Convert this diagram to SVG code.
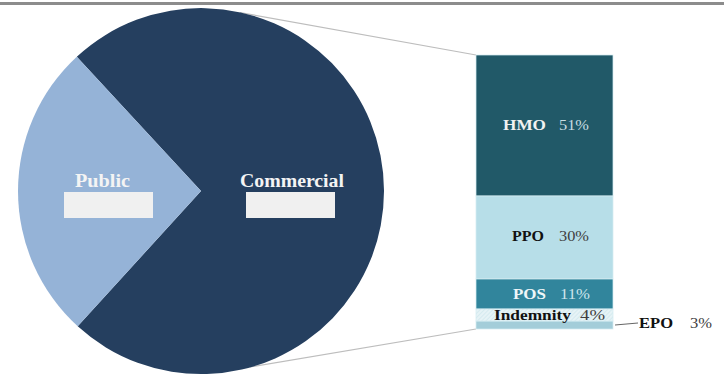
<svg xmlns="http://www.w3.org/2000/svg" width="724" height="376" viewBox="0 0 724 376">
<defs>
<pattern id="hatch" width="3" height="3" patternUnits="userSpaceOnUse" patternTransform="rotate(45)">
<rect width="3" height="3" fill="#e6f3f6"/>
<line x1="0" y1="0" x2="0" y2="3" stroke="#c4e1e9" stroke-width="1"/>
</pattern>
</defs>
<style>
.t{font-family:"Liberation Serif","Times New Roman",serif;}
.b{font-weight:bold;}
.big{font-size:18.5px;fill:#f4f4f4;}
.sm{font-size:15px;}
.seg{stroke:#d4ebf1;stroke-width:0.75;}
.conn{stroke:#bdbdbd;stroke-width:1.2;fill:none;}
.box{fill:#f0f0f0;}
</style>
<rect x="0" y="2" width="724" height="3" fill="#8c8c8c"/>
<g id="connectors">
<line class="conn" x1="240" y1="12.5" x2="476" y2="55"/>
<line class="conn" x1="250" y1="367" x2="476" y2="329"/>
<line x1="615" y1="325" x2="638" y2="323" stroke="#666666" stroke-width="1"/>
</g>
<g id="commercial">
<path d="M201,191 L76.8,56.7 A183,183 0 1 1 77.7,326.3 Z" fill="#253f5f"/>
<text class="t b big" x="240" y="187" textLength="104" lengthAdjust="spacingAndGlyphs">Commercial</text>
<rect class="box" x="246" y="192" width="89" height="26"/>
</g>
<g id="public">
<path d="M201,191 L76.8,56.7 A183,183 0 0 0 77.7,326.3 Z" fill="#95b3d7"/>
<text class="t b big" x="75" y="187" textLength="55" lengthAdjust="spacingAndGlyphs">Public</text>
<rect class="box" x="64" y="192" width="89" height="26"/>
</g>
<g id="hmo">
<rect class="seg" x="476" y="55" width="137" height="141" fill="#215968"/>
<text class="t b sm" x="503" y="130" fill="#f2f2f2" textLength="43" lengthAdjust="spacingAndGlyphs">HMO</text>
<text class="t sm" x="559" y="130" fill="#c9dde2" textLength="30" lengthAdjust="spacingAndGlyphs">51%</text>
</g>
<g id="ppo">
<rect class="seg" x="476" y="196" width="137" height="83" fill="#b7dee8"/>
<text class="t b sm" x="512" y="241" fill="#111111" textLength="32" lengthAdjust="spacingAndGlyphs">PPO</text>
<text class="t sm" x="559" y="241" fill="#404040" textLength="30" lengthAdjust="spacingAndGlyphs">30%</text>
</g>
<g id="pos">
<rect class="seg" x="476" y="279" width="137" height="30" fill="#31859c"/>
<text class="t b sm" x="513" y="299" fill="#eef6f8" textLength="33" lengthAdjust="spacingAndGlyphs">POS</text>
<text class="t sm" x="560" y="299" fill="#cfe6ec" textLength="30" lengthAdjust="spacingAndGlyphs">11%</text>
</g>
<g id="epo">
<rect class="seg" x="476" y="321" width="137" height="8" fill="#a3cdd9"/>
<text class="t b sm" x="639" y="327.5" fill="#111111" textLength="34" lengthAdjust="spacingAndGlyphs">EPO</text>
<text class="t sm" x="690" y="327.5" fill="#404040" textLength="22" lengthAdjust="spacingAndGlyphs">3%</text>
</g>
<g id="indemnity">
<rect class="seg" x="476" y="309" width="137" height="12" fill="url(#hatch)"/>
<text class="t b sm" x="494" y="319.5" fill="#111111" textLength="77" lengthAdjust="spacingAndGlyphs">Indemnity</text>
<text class="t sm" x="580" y="319.5" fill="#404040" textLength="25" lengthAdjust="spacingAndGlyphs">4%</text>
</g>
</svg>
